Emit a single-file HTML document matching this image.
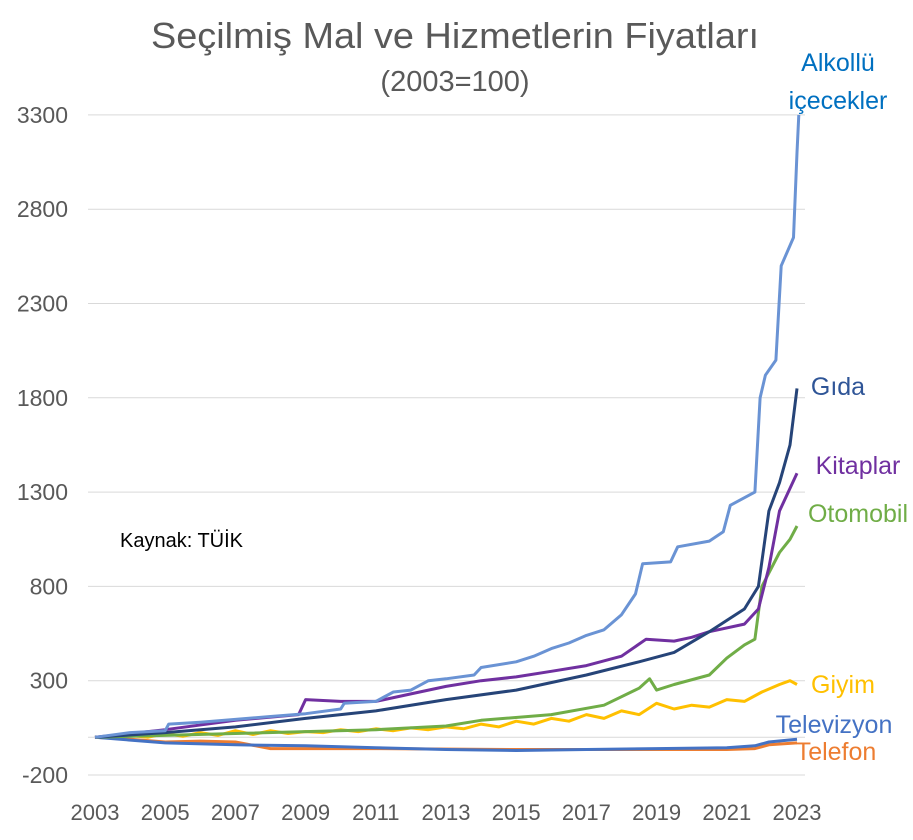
<!DOCTYPE html>
<html><head><meta charset="utf-8"><style>
body{margin:0;background:#fff;}
svg{display:block;font-family:"Liberation Sans",sans-serif;}
</style></head><body>
<svg id="chart" width="913" height="840">
<text x="455" y="48" text-anchor="middle" font-size="36" fill="#595959" textLength="608" lengthAdjust="spacingAndGlyphs">Seçilmiş Mal ve Hizmetlerin Fiyatları</text>
<text x="455" y="91" text-anchor="middle" font-size="29" fill="#595959">(2003=100)</text>
<text x="120" y="547" font-size="20" fill="#000">Kaynak: TÜİK</text>
<g id="grid"></g><g id="lines"></g><g id="labels"></g>
</svg>
<script>
const yTicks=[-200,300,800,1300,1800,2300,2800,3300];
const xTicks=[2003,2005,2007,2009,2011,2013,2015,2017,2019,2021,2023];
const alkYears=[2003,2004,2005,2005.1,2006,2007,2008,2009,2010,2010.1,2011,2011.5,2012,2012.5,2013,2013.8,2014,2015,2015.5,2016,2016.5,2017,2017.5,2018,2018.4,2018.6,2019.4,2019.6,2020.5,2020.9,2021.1,2021.8,2021.95,2022.1,2022.4,2022.55,2022.9,2023,2023.05];
const alkVals=[0,25,35,70,80,95,110,125,150,180,190,240,250,300,310,330,370,400,430,470,500,540,570,650,760,920,930,1010,1040,1090,1230,1300,1800,1920,2000,2500,2650,3100,3300];
const gidaYears=[2003,2005,2007,2009,2011,2013,2015,2017,2018.5,2019.5,2020.5,2021.5,2021.9,2022.2,2022.5,2022.8,2023];
const gidaVals=[0,25,55,100,140,200,250,330,400,450,560,680,800,1200,1350,1550,1850];
const kitYears=[2003,2005,2007,2008.8,2009,2010,2011,2012,2013,2014,2015,2016,2017,2018,2018.7,2019.5,2020,2020.5,2021.5,2021.9,2022.2,2022.5,2023];
const kitVals=[0,40,90,120,200,190,190,230,270,300,320,350,380,430,520,510,530,560,600,680,900,1200,1400];
const otoYears=[2003,2007,2011,2013,2014,2016,2017.5,2018.5,2018.8,2019,2019.5,2020.5,2021,2021.5,2021.8,2022,2022.5,2022.8,2023];
const otoVals=[0,20,40,60,90,120,170,260,310,250,280,330,420,490,520,800,980,1050,1120];
const giyYears=[2003,2004,2004.5,2005,2005.5,2006,2006.5,2007,2007.5,2008,2008.5,2009,2009.5,2010,2010.5,2011,2011.5,2012,2012.5,2013,2013.5,2014,2014.5,2015,2015.5,2016,2016.5,2017,2017.5,2018,2018.5,2019,2019.5,2020,2020.5,2021,2021.5,2022,2022.5,2022.8,2023];
const giyVals=[0,10,0,20,5,25,10,35,15,35,20,30,25,40,30,45,35,50,40,55,45,70,55,85,70,100,85,120,100,140,120,180,150,170,160,200,190,240,280,300,280];
const tvYears=[2003,2005,2007,2009,2011,2013,2015,2017,2019,2021,2021.8,2022.2,2023];
const tvVals=[0,-30,-40,-45,-55,-65,-70,-65,-60,-55,-45,-25,-10];
const telYears=[2003,2004,2005,2006,2007,2008,2011,2015,2019,2021,2021.8,2022.2,2023];
const telVals=[0,-10,-25,-20,-25,-60,-60,-65,-65,-65,-60,-40,-30];
const X=v=>95+(v-2003)*35.1;
const Y=v=>775-(v+200)*0.1886;
const NS='http://www.w3.org/2000/svg';
const grid=document.getElementById('grid'),lines=document.getElementById('lines'),labels=document.getElementById('labels');
yTicks.forEach(t=>{
 const l=document.createElementNS(NS,'line');
 l.setAttribute('x1',88);l.setAttribute('x2',805);l.setAttribute('y1',Y(t));l.setAttribute('y2',Y(t));
 l.setAttribute('stroke','#d9d9d9');l.setAttribute('stroke-width',1);
 
 
 grid.appendChild(l);
 const tx=document.createElementNS(NS,'text');
 tx.setAttribute('x',68);tx.setAttribute('y',Y(t)+8);tx.setAttribute('text-anchor','end');
 tx.setAttribute('font-size',23);tx.setAttribute('fill','#595959');tx.textContent=t;
 
 
 grid.appendChild(tx);
});
const ax=document.createElementNS(NS,'line');
ax.setAttribute('x1',88);ax.setAttribute('x2',805);ax.setAttribute('y1',Y(0));ax.setAttribute('y2',Y(0));
ax.setAttribute('stroke','#d9d9d9');


grid.appendChild(ax);
xTicks.forEach(t=>{
 const tx=document.createElementNS(NS,'text');
 tx.setAttribute('x',X(t));tx.setAttribute('y',820);tx.setAttribute('text-anchor','middle');
 tx.setAttribute('font-size',22);tx.setAttribute('fill','#595959');tx.textContent=t;
 
 
 grid.appendChild(tx);
});
function series(xs,vs,color,name){
 const p=document.createElementNS(NS,'polyline');
 p.setAttribute('points',xs.map((x,i)=>X(x).toFixed(1)+','+Y(vs[i]).toFixed(1)).join(' '));
 p.setAttribute('fill','none');p.setAttribute('stroke',color);p.setAttribute('stroke-width',3);
 p.setAttribute('stroke-linejoin','round');
 
 
 lines.appendChild(p);
}
series(telYears,telVals,'#ed7d31','telefon-line');
series(tvYears,tvVals,'#4472c4','televizyon-line');
series(giyYears,giyVals,'#ffc000','giyim-line');
series(otoYears,otoVals,'#70ad47','otomobil-line');
series(kitYears,kitVals,'#7030a0','kitaplar-line');
series(gidaYears,gidaVals,'#264478','gida-line');
series(alkYears,alkVals,'#6a93d4','alkollu-line');
function lab(txt,x,y,c,name){
 const t=document.createElementNS(NS,'text');
 t.setAttribute('x',x);t.setAttribute('y',y);t.setAttribute('text-anchor','middle');
 t.setAttribute('font-size',25);t.setAttribute('fill',c);t.textContent=txt;
 
 
 labels.appendChild(t);
}
lab('Alkollü',838,71,'#0070c0','label-alkollu');
lab('içecekler',838,109,'#0070c0','label-alkollu-2');
lab('Gıda',838,395,'#2f5597','label-gida');
lab('Kitaplar',858,474,'#7030a0','label-kitaplar');
lab('Otomobil',858,522,'#70ad47','label-otomobil');
lab('Giyim',843,693,'#ffc000','label-giyim');
lab('Televizyon',834,733,'#4472c4','label-televizyon');
lab('Telefon',836,760,'#ed7d31','label-telefon');
</script>
</body></html>
